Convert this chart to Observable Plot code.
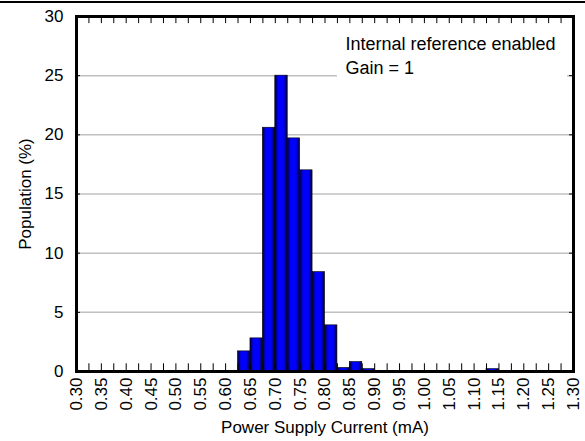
<!DOCTYPE html>
<html>
<head>
<meta charset="utf-8">
<script src="https://cdn.jsdelivr.net/npm/d3@7"></script>
<script src="https://cdn.jsdelivr.net/npm/@observablehq/plot@0.6"></script>
<style>
  html, body { margin: 0; padding: 0; background: #fff; }
  #wrap { position: relative; width: 585px; height: 441px; }
  #topline { position: absolute; left: 0; top: 1px; width: 585px; border-top: 2px solid #000; }
</style>
</head>
<body>
<div id="wrap"><div id="topline"></div></div>
<script>
// ---- data ----
const binStart = [0.625, 0.65, 0.675, 0.70, 0.725, 0.75, 0.775, 0.80, 0.825, 0.85, 0.875, 1.125];
const population = [1.7, 2.8, 20.6, 25.0, 19.7, 17.0, 8.4, 3.9, 0.3, 0.8, 0.2, 0.2];
const binWidth = 0.025;
const xTickLabels = [0.30,0.35,0.40,0.45,0.50,0.55,0.60,0.65,0.70,0.75,0.80,0.85,0.90,0.95,1.00,1.05,1.10,1.15,1.20,1.25,1.30];
const yTickLabels = [0, 5, 10, 15, 20, 25, 30];
const gridValues = [5, 10, 15, 20, 25];
const annotationLines = ["Internal reference enabled", "Gain = 1"];
const xTitle = "Power Supply Current (mA)";
const yTitle = "Population (%)";

const bars = binStart.map((s, i) => ({x1: s, x2: s + binWidth, y: population[i]}));
const minorTicks = d3.range(13, 52).map(k => k * binWidth);

const defs = () => {
  const d = d3.create("svg:defs");
  const g = d.append("linearGradient").attr("id", "barGrad")
    .attr("x1", "0%").attr("x2", "100%").attr("y1", "0%").attr("y2", "0%");
  g.append("stop").attr("offset", "0%").attr("stop-color", "#000030");
  g.append("stop").attr("offset", "28%").attr("stop-color", "#0000ff");
  g.append("stop").attr("offset", "70%").attr("stop-color", "#0000ff");
  g.append("stop").attr("offset", "100%").attr("stop-color", "#000030");
  return d.node();
};

const chart = Plot.plot({
  width: 585,
  height: 441,
  marginLeft: 76,
  marginRight: 12,
  marginTop: 16,
  marginBottom: 70,
  style: {fontFamily: "'Liberation Sans', Arial, sans-serif", fontSize: "17px", background: "transparent", color: "#000"},
  x: {domain: [0.3, 1.3]},
  y: {domain: [0, 30]},
  marks: [
    defs,
    Plot.ruleY(gridValues, {stroke: "#c0c0c0", strokeWidth: 1.5}),
    Plot.rect([0], {x1: () => 0.825, x2: () => 1.288, y1: () => 24.2, y2: () => 28.4, fill: "white"}),
    Plot.rectY(bars, {x1: "x1", x2: "x2", y: "y", fill: "url(#barGrad)", stroke: "#000", strokeWidth: 0.6}),
    Plot.ruleX(minorTicks, {y1: 0, y2: 0.65, stroke: "#000", strokeWidth: 1}),
    Plot.ruleX(minorTicks, {y1: 30, y2: 29.4, stroke: "#000", strokeWidth: 1}),
    Plot.ruleY(gridValues, {x1: 0.3, x2: 0.308, stroke: "#000", strokeWidth: 1}),
    Plot.ruleY(gridValues, {x1: 1.292, x2: 1.3, stroke: "#000", strokeWidth: 1}),
    Plot.frame({stroke: "#000", strokeWidth: 3}),
    Plot.axisX({ticks: xTickLabels, tickFormat: d3.format(".2f"), tickSize: 0, tickPadding: 6, tickRotate: -90, label: null, fontSize: 17}),
    Plot.axisY({ticks: yTickLabels, tickFormat: d3.format("d"), tickSize: 0, tickPadding: 13, label: null, fontSize: 17}),
    Plot.text(annotationLines, {
      x: () => 0.841,
      y: (d, i) => i === 0 ? 27.62 : 25.67,
      text: d => d,
      textAnchor: "start",
      fontSize: 18,
      fill: "#000"
    }),
    Plot.text([xTitle], {frameAnchor: "bottom", textAnchor: "middle", lineAnchor: "middle", dy: 56, fontSize: 17, fill: "#000"}),
    Plot.text([yTitle], {frameAnchor: "left", textAnchor: "middle", lineAnchor: "middle", dx: -51, rotate: -90, fontSize: 17, fill: "#000"})
  ]
});
document.getElementById("wrap").appendChild(chart);
</script>
</body>
</html>
